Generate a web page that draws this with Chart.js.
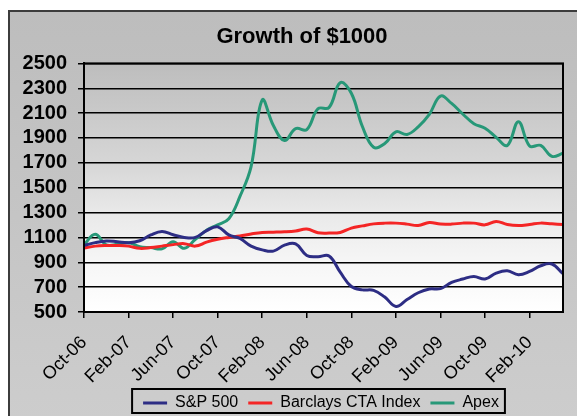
<!DOCTYPE html>
<html>
<head>
<meta charset="utf-8">
<script src="https://cdn.jsdelivr.net/npm/chart.js@4.4.1/dist/chart.umd.min.js"></script>
<style>
  html, body { margin: 0; padding: 0; background: #fff; overflow: hidden; width: 577px; height: 416px; }
  #frame { position: absolute; left: 8px; top: 10px; width: 600px; height: 413px; box-sizing: border-box;
           border: 2px solid #3c3c3c; background: linear-gradient(#bdbdbd, #cdcdcd); }
  #frame canvas { display: block; }
</style>
</head>
<body>
<div id="frame"><canvas id="chartGrowth" width="596" height="409"></canvas></div>
<script>
const months = ['Oct-06','Nov-06','Dec-06','Jan-07','Feb-07','Mar-07','Apr-07','May-07','Jun-07','Jul-07','Aug-07','Sep-07',
                'Oct-07','Nov-07','Dec-07','Jan-08','Feb-08','Mar-08','Apr-08','May-08','Jun-08','Jul-08','Aug-08','Sep-08',
                'Oct-08','Nov-08','Dec-08','Jan-09','Feb-09','Mar-09','Apr-09','May-09','Jun-09','Jul-09','Aug-09','Sep-09',
                'Oct-09','Nov-09','Dec-09','Jan-10','Feb-10','Mar-10','Apr-10','May-10'];
const xTickLabels = ['Oct-06','Feb-07','Jun-07','Oct-07','Feb-08','Jun-08','Oct-08','Feb-09','Jun-09','Oct-09','Feb-10'];
const yTicks = [500, 700, 900, 1100, 1300, 1500, 1700, 1900, 2100, 2300, 2500];

const sp500 = [1035, 1058, 1072, 1065, 1058, 1073, 1120, 1148, 1122, 1100, 1100, 1155,
               1185, 1120, 1092, 1030, 1000, 990, 1038, 1048, 955, 945, 950, 820,
               705, 678, 674, 620, 545, 600, 655, 685, 688, 738, 765, 786,
               765, 813, 832, 800, 826, 872, 886, 808];
const barclays = [1015, 1030, 1035, 1035, 1030, 1012, 1018, 1030, 1042, 1050, 1030, 1062,
                  1085, 1100, 1112, 1128, 1140, 1142, 1145, 1152, 1167, 1138, 1135, 1140,
                  1175, 1193, 1209, 1215, 1215, 1207, 1196, 1220, 1207, 1207, 1215, 1215,
                  1201, 1228, 1204, 1196, 1204, 1215, 1209, 1204];
const apex = [1040, 1125, 1040, 1045, 1058, 1025, 1018, 1008, 1065, 1012, 1085, 1158,
              1201, 1250, 1430, 1670, 2205, 2000, 1880, 1975, 1968, 2135, 2145, 2345,
              2260, 1990, 1825, 1855, 1950, 1928, 1990, 2090, 2237, 2178, 2093, 2015,
              1978, 1905, 1840, 2031, 1836, 1840, 1752, 1777];

const fontFamily = "'Liberation Sans', Arial, sans-serif";
const legendShift = 19;

// gradient behind the plot and black frame around it
const plotBackground = {
    id: 'plotBackground',
    beforeDraw(chart) {
        const { ctx, chartArea: a } = chart;
        const g = ctx.createLinearGradient(0, a.top, 0, a.bottom);
        g.addColorStop(0, '#bdbdbd');
        g.addColorStop(0.4, '#d6d6d6');
        g.addColorStop(0.6, '#e9e9e9');
        g.addColorStop(0.8, '#f6f6f6');
        g.addColorStop(1, '#ffffff');
        ctx.save();
        ctx.fillStyle = g;
        ctx.fillRect(a.left, a.top, a.width, a.height);
        ctx.restore();
    },
    afterDraw(chart) {
        const { ctx, chartArea: a } = chart;
        ctx.save();
        ctx.strokeStyle = '#000';
        ctx.lineWidth = 2;
        ctx.strokeRect(a.left, a.top, a.width, a.height);
        ctx.restore();
    }
};

// moves the legend a little to the right and draws its box
const legendFrame = {
    id: 'legendFrame',
    afterUpdate(chart) {
        const lg = chart.legend;
        lg.left += legendShift;
        lg.right += legendShift;
        lg.legendHitBoxes.forEach(function (h) { h.left += legendShift; });
    },
    afterDraw(chart) {
        const boxes = chart.legend.legendHitBoxes;
        if (!boxes.length) return;
        const first = boxes[0];
        const last = boxes[boxes.length - 1];
        const ctx = chart.ctx;
        ctx.save();
        ctx.strokeStyle = '#000';
        ctx.lineWidth = 2;
        const x0 = first.left - 11, x1 = last.left + last.width + 6;
        const y0 = first.top - 6, y1 = first.top + first.height + 2;
        ctx.strokeRect(x0, y0, x1 - x0, y1 - y0);
        ctx.restore();
    }
};

function isLabelled(i) {
    return xTickLabels.indexOf(months[i]) !== -1;
}

let ctxGrowth = document.getElementById('chartGrowth').getContext('2d');
new Chart(ctxGrowth, {
    type: 'line',
    data: {
        labels: months,
        datasets: [
            { label: 'S&P 500', data: sp500, borderColor: '#2d2d84', backgroundColor: '#2d2d84' },
            { label: 'Barclays CTA Index', data: barclays, borderColor: '#f42525', backgroundColor: '#f42525' },
            { label: 'Apex', data: apex, borderColor: '#279878', backgroundColor: '#279878' }
        ]
    },
    options: {
        responsive: false,
        animation: false,
        events: [],
        layout: { padding: { left: 0, right: 12, top: 0, bottom: 0 } },
        elements: {
            line: { borderWidth: 3, tension: 0.4, fill: false },
            point: { radius: 0 }
        },
        scales: {
            x: {
                grid: {
                    drawOnChartArea: false, drawTicks: true, tickLength: 6, lineWidth: 1.5,
                    tickColor: function (c) { return isLabelled(c.index) ? '#000' : 'rgba(0,0,0,0)'; }
                },
                border: { color: '#000', width: 2 },
                ticks: {
                    autoSkip: false, maxRotation: 45, minRotation: 45, padding: 14, color: '#000',
                    font: { family: fontFamily, size: 18 },
                    callback: function (v, i) { return isLabelled(i) ? months[i] : ''; }
                },
                afterFit: function (s) { s.height = 73; }
            },
            y: {
                min: 500,
                max: 2500,
                afterBuildTicks: function (axis) { axis.ticks = yTicks.map(function (v) { return { value: v }; }); },
                grid: { color: '#000', lineWidth: 1.5, tickLength: 6 },
                border: { color: '#000', width: 2 },
                ticks: {
                    autoSkip: false, color: '#000', padding: 11,
                    font: { family: fontFamily, size: 20, weight: 'bold' },
                    callback: function (v) { return String(v); }
                },
                afterFit: function (s) { s.width = 74; }
            },
            yRight: {
                type: 'linear',
                position: 'right',
                grid: { display: false },
                border: { display: false },
                ticks: { display: false },
                afterFit: function (s) { s.width = 31; }
            }
        },
        plugins: {
            title: {
                display: true,
                text: 'Growth of $1000',
                color: '#000',
                font: { family: fontFamily, size: 22, weight: 'bold' },
                padding: { top: 12, bottom: 13 }
            },
            legend: {
                position: 'bottom',
                labels: {
                    boxWidth: 24,
                    boxHeight: 3,
                    padding: 10,
                    color: '#000',
                    font: { family: fontFamily, size: 16 },
                    generateLabels: function (chart) {
                        let items = Chart.defaults.plugins.legend.labels.generateLabels(chart);
                        items.forEach(function (it) { it.fillStyle = it.strokeStyle; it.lineWidth = 0; });
                        return items;
                    }
                }
            },
            tooltip: { enabled: false }
        }
    },
    plugins: [plotBackground, legendFrame]
});
</script>
</body>
</html>
